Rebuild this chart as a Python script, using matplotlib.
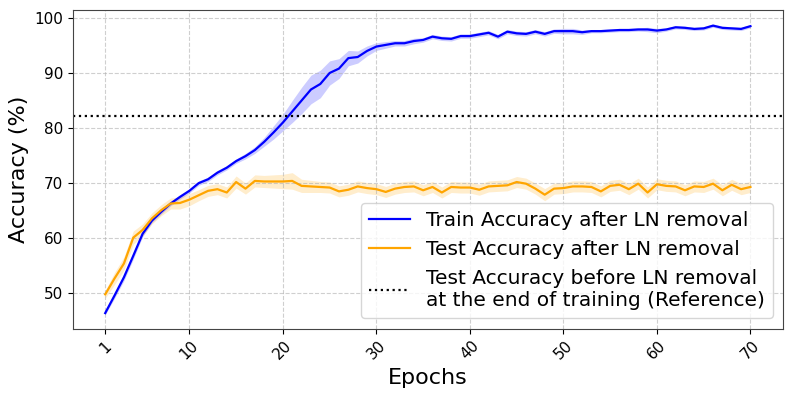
import matplotlib
matplotlib.use("Agg")
import matplotlib.pyplot as plt
import numpy as np

epochs = list(range(1, 71))

train_acc = [46.4, 49.6, 52.9, 56.8, 60.8, 63.2, 64.8, 66.3, 67.5, 68.6,
             70.0, 70.7, 71.9, 72.8, 74.0, 74.9, 76.0, 77.5, 79.2, 81.0,
             83.0, 85.0, 87.0, 88.0, 90.0, 90.8, 92.7, 92.9, 94.0, 94.8,
             95.1, 95.4, 95.4, 95.8, 96.0, 96.6, 96.3, 96.2, 96.7, 96.7,
             97.0, 97.3, 96.6, 97.5, 97.2, 97.1, 97.5, 97.1, 97.6, 97.6,
             97.6, 97.4, 97.6, 97.6, 97.7, 97.8, 97.8, 97.9, 97.9, 97.7,
             97.9, 98.3, 98.2, 98.0, 98.1, 98.6, 98.2, 98.1, 98.0, 98.5]

train_std = [0.3, 0.5, 0.6, 0.6, 0.5, 0.4, 0.4, 0.4, 0.4, 0.4,
             0.4, 0.4, 0.4, 0.4, 0.4, 0.5, 0.6, 0.8, 1.2, 1.5,
             2.0, 2.4, 2.6, 2.5, 2.2, 1.8, 1.4, 1.1, 0.9, 0.7,
             0.6, 0.5, 0.5, 0.5, 0.4, 0.4, 0.4, 0.4, 0.4, 0.4,
             0.4, 0.4, 0.4, 0.4, 0.4, 0.4, 0.4, 0.4, 0.4, 0.5,
             0.5, 0.4, 0.3, 0.3, 0.3, 0.3, 0.3, 0.3, 0.4, 0.4,
             0.3, 0.3, 0.3, 0.3, 0.3, 0.3, 0.3, 0.3, 0.3, 0.3]

test_acc = [49.8, 52.7, 55.4, 60.1, 61.5, 63.6, 65.1, 66.3, 66.4, 67.0,
            67.8, 68.6, 68.9, 68.3, 70.2, 69.0, 70.4, 70.3, 70.3, 70.3,
            70.4, 69.5, 69.4, 69.3, 69.2, 68.5, 68.8, 69.4, 69.1, 68.9,
            68.4, 69.0, 69.3, 69.4, 68.7, 69.3, 68.3, 69.3, 69.2, 69.2,
            68.8, 69.4, 69.5, 69.6, 70.2, 69.9, 69.0, 67.9, 69.0, 69.1,
            69.4, 69.4, 69.3, 68.5, 69.5, 69.7, 68.9, 69.9, 68.3, 69.8,
            69.5, 69.4, 68.7, 69.4, 69.3, 69.9, 68.7, 69.7, 68.9, 69.3]

test_std = [0.7, 1.1, 1.2, 1.2, 1.1, 1.0, 1.0, 1.0, 1.1, 1.1,
            1.0, 1.0, 1.0, 1.0, 1.1, 1.0, 1.1, 1.1, 1.2, 1.3,
            1.5, 1.2, 1.1, 1.0, 1.0, 1.0, 1.0, 1.0, 1.0, 1.0,
            1.0, 1.0, 1.0, 1.0, 1.0, 1.0, 1.0, 1.0, 1.0, 1.0,
            1.0, 1.0, 1.0, 1.0, 1.0, 1.0, 1.0, 1.1, 1.0, 1.0,
            1.0, 1.0, 1.0, 1.0, 1.0, 1.0, 1.0, 1.0, 1.0, 1.0,
            1.0, 1.0, 1.0, 1.0, 1.0, 1.0, 1.0, 1.0, 1.0, 1.0]

reference_acc = 82.1
xticks = [1, 10, 20, 30, 40, 50, 60, 70]

e = np.array(epochs)
tr = np.array(train_acc); trs = np.array(train_std)
te = np.array(test_acc); tes = np.array(test_std)

fig = plt.figure(figsize=(7.93, 3.97), dpi=100)
ax = fig.add_axes([0.092, 0.1725, 0.895, 0.8025])

ax.fill_between(e, tr - trs, tr + trs, color="blue", alpha=0.2, linewidth=0)
ax.plot(e, tr, color="blue", linewidth=1.6, label="Train Accuracy after LN removal")
ax.fill_between(e, te - tes, te + tes, color="orange", alpha=0.2, linewidth=0)
ax.plot(e, te, color="orange", linewidth=1.6, label="Test Accuracy after LN removal")
ax.axhline(reference_acc, color="black", linestyle=":", linewidth=1.6,
           label="Test Accuracy before LN removal\nat the end of training (Reference)")

ax.set_xlim(1 - 0.05 * 69, 70 + 0.05 * 69)
ax.set_ylim(43.6, 101.45)
ax.set_xticks(xticks)
ax.set_xticklabels([str(t) for t in xticks], rotation=45, fontsize=11)
ax.tick_params(axis="y", labelsize=11)
ax.set_xlabel("Epochs", fontsize=16)
ax.set_ylabel("Accuracy (%)", fontsize=16)
ax.grid(True, linestyle="--", color="#b0b0b0", alpha=0.6, linewidth=0.8)
for s in ax.spines.values():
    s.set_color("#444444")
ax.legend(loc="lower right", fontsize=14.5)

fig.savefig("out.png", dpi=100)
